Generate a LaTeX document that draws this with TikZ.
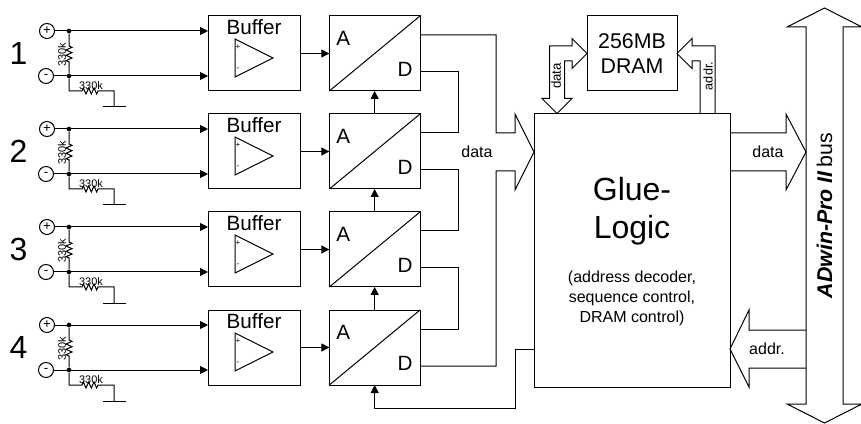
\documentclass[tikz,border=0pt]{standalone}
\usepackage{fontspec}
\setmainfont{Liberation Sans}
\usepackage{tikz}
\usetikzlibrary{arrows.meta,positioning,calc,decorations.pathmorphing}
\tikzset{
  adbox/.style={
    draw,
    inner sep=0pt,
    outer sep=0pt,
    minimum height=56.25pt,
    line width=0.75pt
  },
  adbuffer/.style={adbox, minimum width=69pt},
  adconv/.style={adbox, minimum width=68pt},
  adplain/.style={inner sep=0pt, align=center},
  adbig/.style={adplain, font=\fontsize{15.5}{18}\selectfont},
  adsmall/.style={adplain, font=\fontsize{12}{15}\selectfont},
  adtiny/.style={adplain, font=\fontsize{8.2}{10}\selectfont},
  adterm/.style={draw, circle, inner sep=0pt, outer sep=0pt, minimum size=11.25pt, line width=0.75pt, font=\fontsize{10}{10}\selectfont},
  addot/.style={fill, circle, inner sep=0pt, minimum size=3.5pt},
  adwire/.style={line width=0.75pt},
  adarrow/.style={adwire, -{Triangle[length=6pt,width=6pt]}},
  adblock/.style={line width=0.75pt, line join=miter},
  adzig/.style={decoration={zigzag, segment length=4pt, amplitude=2.25pt}}
}
\begin{document}
\begin{tikzpicture}[
  x=0.75pt, y=-0.75pt,
  node distance=17.25pt and 22pt
]
\useasboundingbox (0,0) rectangle (861,424);
\node[adbuffer] (buf1) at (254,53.5) {};
\node[adbuffer, below=of buf1] (buf2) {};
\node[adbuffer, below=of buf2] (buf3) {};
\node[adbuffer, below=of buf3] (buf4) {};
\node[adconv, right=of buf1] (ad1) {};
\node[adconv, right=of buf2] (ad2) {};
\node[adconv, right=of buf3] (ad3) {};
\node[adconv, right=of buf4] (ad4) {};
\node[adbox, minimum width=67.5pt] (dram) at (632,53.5) {};
\node[adsmall, font=\fontsize{16}{19}\selectfont] (dramtext) at (dram.center) {256MB\\DRAM};
\node[adbox, minimum width=147pt, minimum height=204.75pt, below=of dram] (glue) {};
\node[adplain, font=\fontsize{24}{28.5}\selectfont] (gluetitle) at ($(glue.north)+(0,97)$) {Glue-\\Logic};
\node[adsmall] (gluetext) at ($(glue.north)+(0,184)$) {(address decoder,\\sequence control,\\DRAM control)};
\node[adplain, rotate=90, font=\fontsize{16}{19}\selectfont] (bus) at (824.5,215.5) {\textbf{\textit{ADwin-Pro II}}\,bus};
\draw[adblock] ($(bus)+(-18.5,-188.5)$) -- ++(-19,0) -- ++(37.5,-19) -- ++(37.5,19) -- ++(-19,0) -- ++(0,377) -- ++(19,0) -- ++(-37.5,19) -- ++(-37.5,-19) -- ++(19,0) -- cycle;
\foreach \i in {1,...,4} {
  \node[adbig] (buftext\i) at ($(buf\i.north)+(0,11)$) {Buffer};
  \draw[adwire] ($(buf\i.north west)+(27,23)$) -- ($(buf\i.north west)+(27,61)$) -- ($(buf\i.north west)+(65,42)$) -- cycle;
  \node[adplain, font=\fontsize{6}{6}\selectfont] (bufplus\i) at ($(buf\i.north west)+(30,31)$) {+};
  \node[adplain, font=\fontsize{6}{6}\selectfont] (bufminus\i) at ($(buf\i.north west)+(30,53)$) {-};
  \draw[adarrow] (buf\i) -- (ad\i);
  \draw[adwire] (ad\i.south west) -- (ad\i.north east);
  \node[adbig] (adA\i) at ($(ad\i.north west)+(14,22)$) {A};
  \node[adbig] (adD\i) at ($(ad\i.south east)+(-15,-21.5)$) {D};
  \coordinate (adhi\i) at ($(ad\i.north east)+(0,19)$);
  \coordinate (adlo\i) at ($(ad\i.south east)+(0,-19)$);
  \node[adterm] (plus\i) at ($(buf\i.north west)+(-161,15)$) {+};
  \node[adterm] (minus\i) at ($(buf\i.north west)+(-162,60)$) {-};
  \node[addot] (dotp\i) at ($(buf\i.north west)+(-139,15)$) {};
  \node[addot] (dotm\i) at ($(buf\i.north west)+(-139,60)$) {};
  \draw[adarrow] (plus\i) -- (plus\i -| buf\i.west);
  \draw[adarrow] (minus\i) -- (minus\i -| buf\i.west);
  \draw[adwire, adzig] (dotp\i) -- ++(0,15) decorate {-- ++(0,16)} -- (dotm\i);
  \node[adtiny, rotate=90] (rtop\i) at ($(dotp\i)+(-7,24)$) {330k};
  \coordinate (gnd\i) at ($(dotm\i)+(45,31)$);
  \draw[adwire, adzig] (dotm\i) |- ++(13,15) decorate {-- ++(18,0)} -| (gnd\i);
  \draw[adwire] ($(gnd\i)+(-11,0)$) -- ($(gnd\i)+(12,0)$);
  \node[adtiny] (rgnd\i) at ($(dotm\i)+(22,10)$) {330k};
  \node[adplain, font=\fontsize{24}{24}\selectfont] (num\i) at ($(buf\i.north west)+(-189.5,37)$) {\i};
}
\draw[adarrow] (ad2.north) -- (ad1.south);
\draw[adarrow] (ad3.north) -- (ad2.south);
\draw[adarrow] (ad4.north) -- (ad3.south);
\draw[adwire] (adlo1) -- ++(38,0) |- (adhi2);
\draw[adwire] (adlo2) -- ++(38,0) |- (adhi3);
\draw[adwire] (adlo3) -- ++(38,0) |- (adhi4);
\coordinate (gluein) at ($(glue.north west)+(0,38)$);
\draw[adblock] (adhi1) -| ($(gluein)+(-38,-19)$) -- ++(19,0) -- ++(0,-19) -- (gluein) -- ++(-19,38) -- ++(0,-19) -- ++(-19,0) |- (adlo4);
\node[adsmall] (datain) at ($(gluein)+(-57,0)$) {data};
\coordinate (gluectl) at ($(glue.south west)+(0,-38)$);
\draw[adarrow] (gluectl) -- ++(-19,0) |- ($(ad4.south)+(0,23)$) -- (ad4.south);
\draw[adblock] ($(glue.north east)+(0,19)$) -- ++(56,0) -- ++(0,-19) -- ++(20,38) -- ++(-20,38) -- ++(0,-19) -- ++(-56,0);
\node[adsmall] (dataout) at ($(glue.north east)+(38,38)$) {data};
\draw[adblock] ($(glue.south east)+(76,-57)$) -- ++(-57,0) -- ++(0,-20) -- ++(-19,39) -- ++(19,38) -- ++(0,-19) -- ++(57,0);
\node[adsmall] (addrin) at ($(glue.south east)+(37,-38)$) {addr.};
\draw[adblock] (dram.west) -- ++(-15,-15) -- ++(0,7.5) -- ++(-22.5,0) -- ++(0,52.5) -- ++(-7.5,0) -- ++(15,15) -- ++(15,-15) -- ++(-7.5,0) -- ++(0,-37.5) -- ++(7.5,0) -- ++(0,7.5) -- cycle;
\node[adplain, rotate=90, font=\fontsize{10}{10}\selectfont] (dramdata) at ($(dram.west)+(-31,22.5)$) {data};
\draw[adblock] ($(glue.north east)+(-15,0)$) -- ++(0,-68) -- ++(-23,0) -- ++(0,-7.5) -- (dram.east) -- ++(15,15) -- ++(0,-7.5) -- ++(8,0) -- ++(0,53);
\node[adplain, rotate=90, font=\fontsize{9.5}{10}\selectfont] (dramaddr) at ($(dram.east)+(31,22.5)$) {addr.};
\end{tikzpicture}
\end{document}
